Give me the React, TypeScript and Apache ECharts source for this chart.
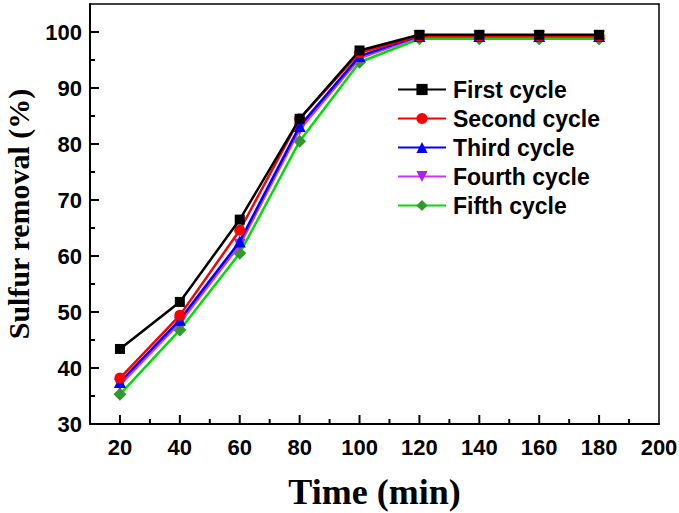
import React, { useEffect, useRef } from "react";
import * as echarts from "echarts";

const times = [20, 40, 60, 80, 100, 120, 140, 160, 180];
const firstCycle = [43.4, 51.8, 66.5, 84.5, 96.7, 99.5, 99.5, 99.5, 99.5];
const secondCycle = [38.2, 49.4, 64.6, 84.5, 96.3, 99.3, 99.3, 99.3, 99.3];
const thirdCycle = [37.5, 48.6, 62.6, 83.2, 95.7, 99.3, 99.3, 99.3, 99.3];
const fourthCycle = [37.0, 48.1, 62.0, 82.6, 95.3, 99.2, 99.2, 99.2, 99.2];
const fifthCycle = [35.3, 46.8, 60.5, 80.5, 94.6, 98.8, 98.8, 98.8, 98.8];

const seriesNames = ["First cycle", "Second cycle", "Third cycle", "Fourth cycle", "Fifth cycle"];
// tick positions (major every 20 min / 10 %, minor in between)
const xTickValues = [20, 30, 40, 50, 60, 70, 80, 90, 100, 110, 120, 130, 140, 150, 160, 170, 180, 190];
const yTickValues = [35, 40, 45, 50, 55, 60, 65, 70, 75, 80, 85, 90, 95, 100];
const X_MIN = 10;
const Y_MIN = 30;

export default function App() {
  const ref = useRef<HTMLDivElement>(null);
  useEffect(() => {
    document.body.style.margin = "0";
    const chart = echarts.init(ref.current!, null, { renderer: "svg" });
    const labelFont = {
      color: "#000",
      fontFamily: "Liberation Sans, Arial, sans-serif",
      fontWeight: "bold" as const,
      fontSize: 22,
    };
    const nameFont = {
      color: "#000",
      fontFamily: "Liberation Serif, Times New Roman, serif",
      fontWeight: "bold" as const,
    };
    const lineColors = ["#000000", "#ff0000", "#0000ff", "#cc33ff", "#00dd00"];
    const markerColors = ["#000000", "#ff0000", "#0000ff", "#b020e8", "#2e9a2e"];
    const symbols = ["rect", "circle", "triangle", "triangle", "diamond"];
    const rotations = [0, 0, 0, 180, 0];
    const sizes = [10, 11, 12, 12, 13];
    const data = [firstCycle, secondCycle, thirdCycle, fourthCycle, fifthCycle];

    // tick marks: [x, y, direction] direction 0 = on x axis, 1 = on y axis
    const tickData = [
      ...xTickValues.map((v) => [v, Y_MIN, 0]),
      ...yTickValues.map((v) => [X_MIN, v, 1]),
    ];

    chart.setOption({
      animation: false,
      grid: { left: 90, right: 20, top: 4, bottom: 89, outerBoundsMode: "none", containLabel: false },
      legend: {
        orient: "vertical",
        left: 392,
        top: 73,
        itemWidth: 48,
        itemHeight: 14,
        itemGap: 6,
        data: seriesNames,
        textStyle: { ...labelFont, fontSize: 23, padding: [0, 0, 0, 2] },
      },
      xAxis: [
        {
          type: "value",
          min: X_MIN,
          max: 200,
          interval: 10,
          position: "bottom",
          name: "Time (min)",
          nameLocation: "middle",
          nameGap: 50,
          nameTextStyle: { ...nameFont, fontSize: 36 },
          axisLine: { show: true, onZero: false, lineStyle: { color: "#000", width: 2 } },
          axisTick: { show: false },
          axisLabel: {
            ...labelFont,
            margin: 12,
            formatter: (v: number) => (v % 20 === 0 ? String(v) : ""),
          },
          splitLine: { show: false },
        },
        {
          type: "value",
          min: X_MIN,
          max: 200,
          position: "top",
          axisLine: { show: true, onZero: false, lineStyle: { color: "#000", width: 1.5 } },
          axisTick: { show: false },
          axisLabel: { show: false },
          splitLine: { show: false },
        },
      ],
      yAxis: [
        {
          type: "value",
          min: Y_MIN,
          max: 105,
          interval: 5,
          position: "left",
          name: "Sulfur removal (%)",
          nameLocation: "middle",
          nameGap: 57,
          nameTextStyle: { ...nameFont, fontSize: 30 },
          axisLine: { show: true, onZero: false, lineStyle: { color: "#000", width: 2 } },
          axisTick: { show: false },
          axisLabel: {
            ...labelFont,
            margin: 8,
            formatter: (v: number) => (v % 10 === 0 && v <= 100 ? String(v) : ""),
          },
          splitLine: { show: false },
        },
        {
          type: "value",
          min: Y_MIN,
          max: 105,
          position: "right",
          axisLine: { show: true, onZero: false, lineStyle: { color: "#000", width: 1.5 } },
          axisTick: { show: false },
          axisLabel: { show: false },
          splitLine: { show: false },
        },
      ],
      series: [
        ...seriesNames.map((name, i) => ({
          name,
          type: "line",
          xAxisIndex: 0,
          yAxisIndex: 0,
          data: times.map((t, j) => [t, data[i][j]]),
          symbol: symbols[i],
          symbolRotate: rotations[i],
          symbolSize: sizes[i],
          showAllSymbol: true,
          lineStyle: { color: lineColors[i], width: 2.5 },
          itemStyle: { color: markerColors[i], borderWidth: 0 },
          color: lineColors[i],
          z: 10 - i,
        })),
        {
          type: "custom",
          name: "ticks",
          xAxisIndex: 0,
          yAxisIndex: 0,
          silent: true,
          clip: false,
          z: 20,
          data: tickData,
          renderItem: (_params: any, api: any) => {
            const x = api.value(0);
            const y = api.value(1);
            const dir = api.value(2);
            const p = api.coord([x, y]);
            if (dir === 0) {
              const len = x % 20 === 0 ? 9 : 5;
              return {
                type: "line",
                shape: { x1: p[0], y1: p[1], x2: p[0], y2: p[1] - len },
                style: { stroke: "#000", lineWidth: 2 },
              };
            }
            const len = y % 10 === 0 ? 9 : 5;
            return {
              type: "line",
              shape: { x1: p[0], y1: p[1], x2: p[0] + len, y2: p[1] },
              style: { stroke: "#000", lineWidth: 2 },
            };
          },
        },
      ],
    });
    return () => chart.dispose();
  }, []);
  return <div ref={ref} style={{ width: 679, height: 513, background: "#fff" }} />;
}
